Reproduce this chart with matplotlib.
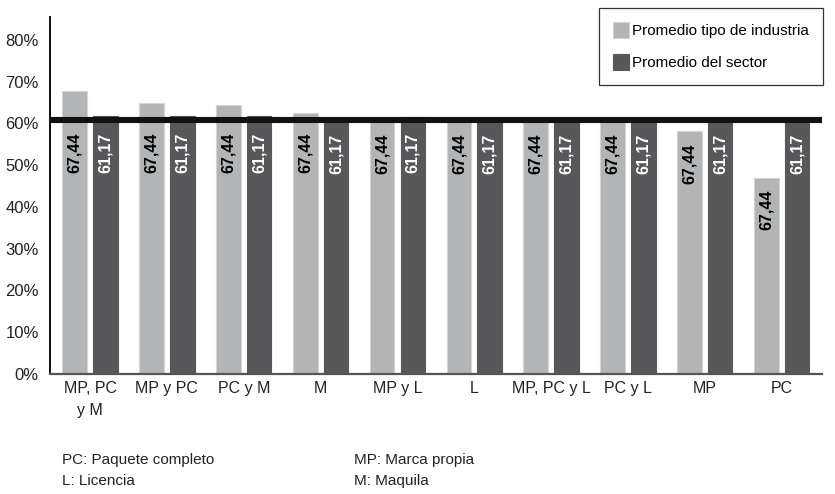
"""
Grouped bar chart: industry-type average vs sector average by business model
"""

import matplotlib.pyplot as plt
import numpy as np

plt.rcParams['font.family'] = ['Liberation Sans', 'DejaVu Sans']

# Data
categories = ['MP, PC\ny M', 'MP y PC', 'PC y M', 'M', 'MP y L', 'L',
              'MP, PC y L', 'PC y L', 'MP', 'PC']
industry_avg = [67.8, 64.9, 64.5, 62.5, 60.5, 60.5, 60.5, 60.5, 58.2, 47.0]
sector_avg = [61.8, 61.7, 61.7, 60.5, 61.5, 60.5, 60.5, 60.5, 60.5, 60.5]
industry_label = '67,44'
sector_label = '61,17'
reference_level = 60.8
yticks = [0, 10, 20, 30, 40, 50, 60, 70, 80]
notes_left = ['PC: Paquete completo', 'L: Licencia']
notes_right = ['MP: Marca propia', 'M: Maquila']

LIGHT = '#b3b4b6'
DARK = '#58585a'

fig = plt.figure(figsize=(8.35, 4.94), dpi=100)
ax = fig.add_axes([0.060, 0.243, 0.924, 0.723])

x = np.arange(len(categories))
width = 0.32
off = 0.2

ax.bar(x - off, industry_avg, width, color=LIGHT, edgecolor='#d4d4d4',
       linewidth=0.8, label='Promedio tipo de industria', zorder=2)
ax.bar(x + off, sector_avg, width, color=DARK, edgecolor=DARK,
       linewidth=0.8, label='Promedio del sector', zorder=2)

# thick reference line across the plot
ax.axhline(reference_level, color='#111111', linewidth=4.4, zorder=3)

# value labels inside the bars
for i in range(len(categories)):
    ax.text(x[i] - off, min(industry_avg[i], reference_level) - 7.8, industry_label,
            rotation=90, ha='center', va='center', fontsize=11.5,
            fontweight='bold', color='black', zorder=4)
    ax.text(x[i] + off, min(sector_avg[i], reference_level) - 7.8, sector_label,
            rotation=90, ha='center', va='center', fontsize=11.5,
            fontweight='bold', color='white', zorder=4)

ax.set_xlim(-0.52, len(categories) - 0.48)
ax.set_ylim(0, 85.5)
ax.set_yticks(yticks)
ax.set_yticklabels([f'{v}%' for v in yticks], fontsize=12, color='#222222')
ax.set_xticks(x)
ax.set_xticklabels(categories, fontsize=11.5, color='#222222', linespacing=1.55)
ax.tick_params(axis='both', length=0)
ax.tick_params(axis='y', pad=8)
ax.tick_params(axis='x', pad=5)

for s in ['top', 'right']:
    ax.spines[s].set_visible(False)
ax.spines['left'].set_color('#111111')
ax.spines['left'].set_linewidth(1.4)
ax.spines['bottom'].set_color('#555555')
ax.spines['bottom'].set_linewidth(1.6)

leg = ax.legend(loc='upper right', bbox_to_anchor=(1.002, 1.026), fontsize=11,
                frameon=True, fancybox=False, edgecolor='black',
                handlelength=1.0, handleheight=1.25, handletextpad=0.2,
                labelspacing=1.05, borderpad=0.95, borderaxespad=0.0)
leg.get_frame().set_linewidth(0.9)

# abbreviation notes below the chart
for j, t in enumerate(notes_left):
    fig.text(62 / 835, 1 - (460 + 21 * j) / 494, t, fontsize=11,
             color='#222222', va='center', ha='left')
for j, t in enumerate(notes_right):
    fig.text(354 / 835, 1 - (460 + 21 * j) / 494, t, fontsize=11,
             color='#222222', va='center', ha='left')

plt.savefig('out.png', dpi=100, facecolor='white')
plt.close()
